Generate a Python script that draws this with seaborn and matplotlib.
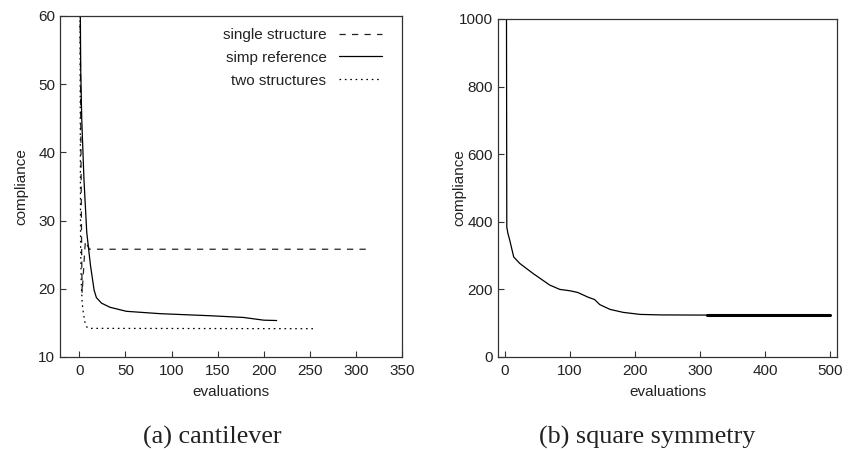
import matplotlib
matplotlib.use("Agg")
import matplotlib.pyplot as plt
import numpy as np
import pandas as pd
import seaborn as sns

# --- cantilever runs -------------------------------------------------------
single_eval = [0.5, 1.5, 2.5, 3.0, 6.5, 11, 314]
single_comp = [70, 45, 25, 19.4, 27.0, 25.8, 25.8]

simp_eval = [0.5, 1.5, 2.6, 5, 8, 12, 16, 18.5, 24, 33, 51, 88, 142, 178, 200, 214]
simp_comp = [70, 52, 44.8, 36, 28.3, 23.5, 19.8, 18.7, 17.9, 17.3, 16.7, 16.35, 16.05, 15.8, 15.4, 15.35]

two_eval = [0.5, 1.0, 1.3, 2.0, 3.0, 4.4, 6.2, 8.0, 10, 256]
two_comp = [70, 45, 27, 21, 18, 16.4, 15.0, 14.4, 14.2, 14.15]

# --- square symmetry run ---------------------------------------------------
sq_eval = [2.6, 3.2, 5, 7.7, 13.8, 23, 43.6, 69, 84.6, 100, 112, 120, 128, 138,
           146, 161.5, 182, 208, 240, 310, 500]
sq_comp = [1200, 384, 365, 346, 296, 277, 247, 213, 200, 196, 191, 184, 177, 170,
           155, 141, 132, 126, 124.5, 124, 124]

cant_xticks = [0, 50, 100, 150, 200, 250, 300, 350]
cant_yticks = [10, 20, 30, 40, 50, 60]
sq_xticks = [0, 100, 200, 300, 400, 500]
sq_yticks = [0, 200, 400, 600, 800, 1000]

sns.set_theme(style="white")
plt.rcParams["font.family"] = ["Liberation Sans", "DejaVu Sans"]
plt.rcParams["axes.edgecolor"] = "#333333"
plt.rcParams["axes.linewidth"] = 0.9
plt.rcParams["text.color"] = "#222222"
plt.rcParams["axes.labelcolor"] = "#222222"
plt.rcParams["xtick.labelcolor"] = "#222222"
plt.rcParams["ytick.labelcolor"] = "#222222"

FS = 11
fig = plt.figure(figsize=(8.53, 4.5), dpi=100)
ax1 = fig.add_axes([60 / 853, 1 - 357 / 450, 342 / 853, 341 / 450])
ax2 = fig.add_axes([498 / 853, 1 - 357 / 450, 339 / 853, 338 / 450])

df_single = pd.DataFrame({"evaluations": single_eval, "compliance": single_comp})
df_simp = pd.DataFrame({"evaluations": simp_eval, "compliance": simp_comp})
df_two = pd.DataFrame({"evaluations": two_eval, "compliance": two_comp})
df_sq = pd.DataFrame({"evaluations": sq_eval, "compliance": sq_comp})

lw = 0.9
sns.lineplot(data=df_single, x="evaluations", y="compliance", ax=ax1, sort=False,
             color="#222222", lw=lw, label="single structure",
             linestyle=(0, (5, 5)))
sns.lineplot(data=df_simp, x="evaluations", y="compliance", ax=ax1, sort=False,
             color="black", lw=lw, label="simp reference")
sns.lineplot(data=df_two, x="evaluations", y="compliance", ax=ax1, sort=False,
             color="black", lw=lw, label="two structures",
             linestyle=(0, (1.3, 3)))

sns.lineplot(data=df_sq, x="evaluations", y="compliance", ax=ax2, sort=False,
             color="black", lw=lw, legend=False)
tail = df_sq[df_sq["evaluations"] >= 310]
sns.lineplot(data=tail, x="evaluations", y="compliance", ax=ax2, sort=False,
             color="black", lw=2.2, legend=False)

ax1.set_xlim(-21, 350)
ax1.set_ylim(10, 60)
ax1.set_xticks(cant_xticks)
ax1.set_yticks(cant_yticks)
ax2.set_xlim(-10.3, 510.3)
ax2.set_ylim(0, 1000)
ax2.set_xticks(sq_xticks)
ax2.set_yticks(sq_yticks)

for ax in (ax1, ax2):
    ax.tick_params(direction="in", length=4, width=0.8, color="#333333",
                   top=False, right=False, bottom=True, left=True,
                   labelsize=FS)
    ax.tick_params(axis="x", pad=5)
    ax.tick_params(axis="y", pad=3.5)
    ax.set_xlabel("evaluations", fontsize=FS, labelpad=5)
    ax.set_ylabel("compliance", fontsize=FS)
    for s in ax.spines.values():
        s.set_visible(True)

ax1.yaxis.set_label_coords(-0.092, 0.5)
ax2.yaxis.set_label_coords(-0.094, 0.5)

leg = ax1.legend(loc="upper right", bbox_to_anchor=(0.942, 0.965), frameon=False,
                 markerfirst=False, fontsize=FS, handlelength=2.8,
                 handletextpad=0.85, labelspacing=0.58, borderpad=0,
                 borderaxespad=0)

serif = ["Liberation Serif", "DejaVu Serif"]
fig.text(212 / 853, 1 - 437 / 450, "(a) cantilever", ha="center", va="center",
         fontsize=18.8, family=serif)
fig.text(647 / 853, 1 - 437 / 450, "(b) square symmetry", ha="center", va="center",
         fontsize=18.8, family=serif)

fig.savefig("out.png", dpi=100)
